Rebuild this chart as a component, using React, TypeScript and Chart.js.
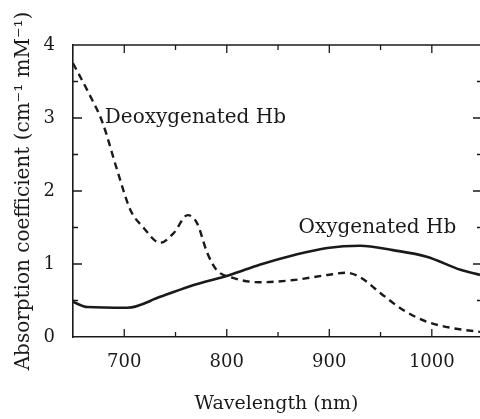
import React, { useEffect, useRef } from "react";
import { Chart, registerables } from "chart.js";

Chart.register(...registerables);

const deoxyWavelengths = [650, 665, 679, 693, 706, 718, 735, 748, 762, 771, 781, 790, 806, 832, 865, 898, 917, 930, 950, 972, 995, 1021, 1047];
const deoxyValues = [3.75, 3.35, 2.93, 2.29, 1.74, 1.51, 1.29, 1.42, 1.67, 1.56, 1.15, 0.92, 0.81, 0.75, 0.78, 0.85, 0.88, 0.82, 0.6, 0.37, 0.21, 0.12, 0.07];

const oxyWavelengths = [650, 664, 703, 735, 767, 803, 832, 865, 898, 930, 962, 995, 1028, 1047];
const oxyValues = [0.48, 0.41, 0.4, 0.55, 0.71, 0.85, 0.99, 1.12, 1.22, 1.25, 1.19, 1.1, 0.92, 0.85];

const xTickLabels = [700, 800, 900, 1000];
const xMinorTicks = [700, 750, 800, 850, 900, 950, 1000];
const yTickLabels = [0, 1, 2, 3, 4];
const yMinorTicks = [0.5, 1, 1.5, 2, 2.5, 3, 3.5];

const seriesNames = ["Deoxygenated Hb", "Oxygenated Hb"];
const labelPositions = [
  { x: 681, y: 3 },
  { x: 870, y: 1.5 },
];

const FONT = "'DejaVu Serif', 'Liberation Serif', serif";
const INK = "#1a1a1a";

export default function App() {
  const ref = useRef<HTMLCanvasElement | null>(null);

  useEffect(() => {
    document.body.style.margin = "0";
    const canvas = ref.current;
    if (!canvas) return;

    const framePlugin = {
      id: "frame",
      afterDraw(chart: any) {
        const { ctx, chartArea } = chart;
        const xs = chart.scales.x;
        const ys = chart.scales.y;
        ctx.save();
        ctx.strokeStyle = INK;
        ctx.lineWidth = 1.6;
        ctx.beginPath();
        ctx.moveTo(chartArea.left, chartArea.top);
        ctx.lineTo(chartArea.right, chartArea.top);
        ctx.stroke();
        ctx.lineWidth = 1.3;
        for (const v of xMinorTicks) {
          const px = xs.getPixelForValue(v);
          const len = v % 100 === 0 ? 8 : 5;
          ctx.beginPath();
          ctx.moveTo(px, chartArea.bottom);
          ctx.lineTo(px, chartArea.bottom - len);
          ctx.moveTo(px, chartArea.top);
          ctx.lineTo(px, chartArea.top + len);
          ctx.stroke();
        }
        for (const v of yMinorTicks) {
          const py = ys.getPixelForValue(v);
          const len = Number.isInteger(v) ? 9 : 5;
          ctx.beginPath();
          ctx.moveTo(chartArea.left, py);
          ctx.lineTo(chartArea.left + len, py);
          ctx.moveTo(chartArea.right, py);
          ctx.lineTo(chartArea.right - len + 2, py);
          ctx.stroke();
        }
        ctx.fillStyle = INK;
        ctx.font = `20px ${FONT}`;
        ctx.textBaseline = "middle";
        ctx.textAlign = "left";
        seriesNames.forEach((name, i) => {
          const p = labelPositions[i];
          ctx.fillText(name, xs.getPixelForValue(p.x), ys.getPixelForValue(p.y));
        });
        ctx.restore();
      },
    };

    const chart = new Chart(canvas, {
      type: "line",
      data: {
        datasets: [
          {
            label: seriesNames[0],
            data: deoxyWavelengths.map((x, i) => ({ x, y: deoxyValues[i] })),
            borderColor: INK,
            borderWidth: 2.4,
            borderDash: [7, 5],
            pointRadius: 0,
            fill: false,
            cubicInterpolationMode: "monotone",
          },
          {
            label: seriesNames[1],
            data: oxyWavelengths.map((x, i) => ({ x, y: oxyValues[i] })),
            borderColor: INK,
            borderWidth: 2.6,
            pointRadius: 0,
            fill: false,
            cubicInterpolationMode: "monotone",
          },
        ],
      },
      options: {
        animation: false,
        responsive: false,
        maintainAspectRatio: false,
        layout: { padding: { top: 45, left: 0, right: 0, bottom: 0 } },
        plugins: { legend: { display: false }, tooltip: { enabled: false } },
        scales: {
          x: {
            type: "linear",
            min: 650,
            max: 1047,
            grid: { display: false },
            border: { display: true, color: INK, width: 1.6 },
            afterBuildTicks: (s: any) => {
              s.ticks = xTickLabels.map((v) => ({ value: v }));
            },
            afterFit: (s: any) => {
              s.height = 82;
            },
            ticks: {
              color: INK,
              font: { family: FONT, size: 18 },
              padding: 7,
              maxRotation: 0,
              autoSkip: false,
              callback: (v: any) => String(v),
            },
            title: {
              display: true,
              text: "Wavelength (nm)",
              color: INK,
              font: { family: FONT, size: 19 },
              padding: { top: 12, bottom: 4 },
            },
          },
          y: {
            type: "linear",
            min: 0,
            max: 4,
            grid: { display: false },
            border: { display: true, color: INK, width: 1.6 },
            afterBuildTicks: (s: any) => {
              s.ticks = yTickLabels.map((v) => ({ value: v }));
            },
            afterFit: (s: any) => {
              s.width = 73;
            },
            ticks: {
              color: INK,
              font: { family: FONT, size: 18 },
              padding: 10,
              callback: (v: any) => String(v),
            },
            title: {
              display: true,
              text: "Absorption coefficient (cm\u207B\u00B9 mM\u207B\u00B9)",
              color: INK,
              font: { family: FONT, size: 20 },
              padding: { top: 12, bottom: 0 },
            },
          },
        },
      },
      plugins: [framePlugin],
    } as any);

    return () => chart.destroy();
  }, []);

  return (
    <div style={{ position: "absolute", left: 0, top: 0, width: 480, height: 419, background: "#fff" }}>
      <canvas ref={ref} width={480} height={419} style={{ width: 480, height: 419 }} />
    </div>
  );
}
